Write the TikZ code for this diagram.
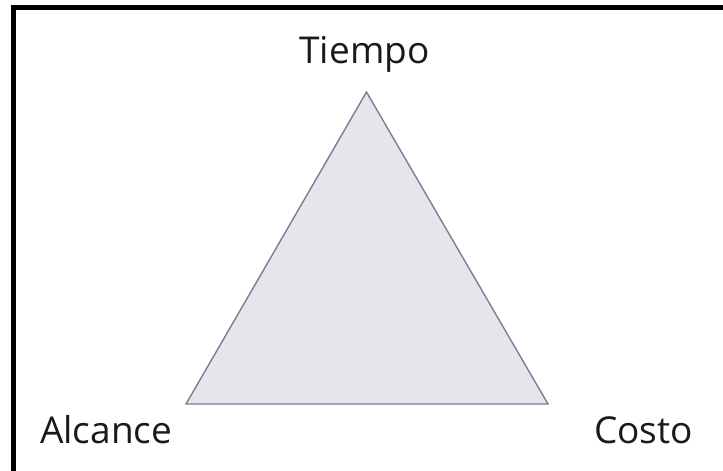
\documentclass[tikz,border=0pt]{standalone}
\usepackage{fontspec}
\setmainfont{Open Sans}
\definecolor{trifill}{HTML}{E7E4EC}
\definecolor{triline}{HTML}{857799}
\definecolor{txt}{HTML}{1A1A1A}
\tikzset{
  lbl/.style={font=\fontsize{37}{42}\selectfont, text=txt, inner sep=0pt, anchor=base},
  tri/.style={fill=trifill, draw=triline, line width=1.4pt, line join=miter},
  frame/.style={draw=black, line width=5pt}
}
\begin{document}
\begin{tikzpicture}[x=1pt,y=-1pt]
\useasboundingbox (0,0) rectangle (723,471);
\draw[frame] (13.5,471) -- (13.5,7.5) -- (723,7.5);
\coordinate (top) at (366.5,92);
\coordinate (bl) at (186,404);
\coordinate (br) at (548,404);
\draw[tri] (top) -- (bl) -- (br) -- cycle;
\node[lbl] (tiempo) at (364.5,63) {Tiempo};
\node[lbl, anchor=base west] (alcance) at (40,443) {Alcance};
\node[lbl, anchor=base west] (costo) at (594,443) {Costo};
\end{tikzpicture}
\end{document}
